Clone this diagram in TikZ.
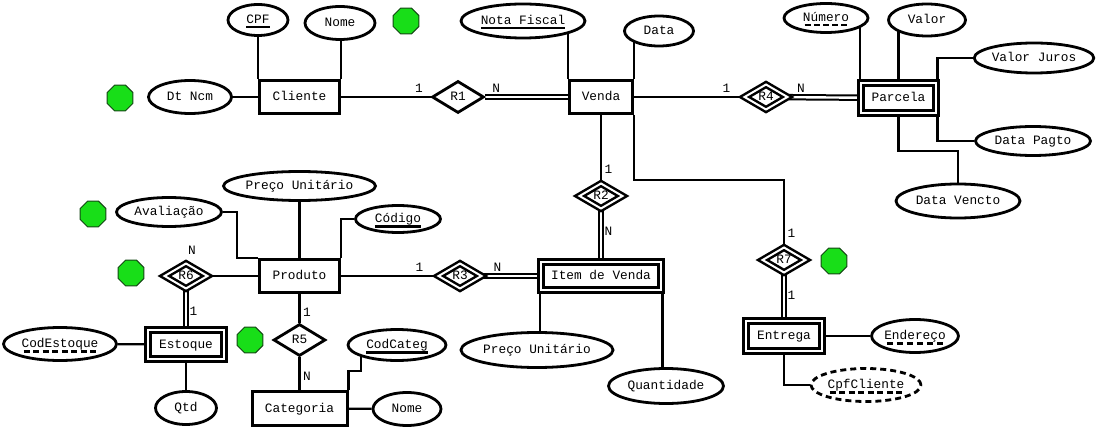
\documentclass[tikz,border=0pt]{standalone}
\usepackage{fontspec}
\setmainfont{Liberation Mono}
\usetikzlibrary{shapes.geometric,backgrounds}

\definecolor{dotgreen}{RGB}{24,222,24}
\definecolor{dotedge}{RGB}{20,70,20}

% key underlines: solid for keys, dashed for partial keys
\newsavebox{\ulbox}
\newcommand{\keyul}[1]{\sbox\ulbox{#1}\rlap{\rule[-5pt]{\wd\ulbox}{2.4pt}}\usebox\ulbox}
\newcommand{\pkeyul}[1]{\sbox\ulbox{#1}\rlap{\hbox to \wd\ulbox{\xleaders\hbox to 9pt{\hss\rule[-5pt]{6pt}{2.4pt}\hss}\hfill}}\usebox\ulbox}
\newcommand{\erfont}{\fontsize{12.8pt}{14pt}\selectfont}

\begin{document}
\begin{tikzpicture}[
    x=1pt, y=-1pt,
    font=\erfont,
    entity/.style={draw, fill=white, line width=3pt, inner sep=0pt, text height=8pt, text depth=1pt},
    weakentity/.style={entity, double, double distance=2.2pt, line width=2.8pt},
    rel/.style={draw, fill=white, diamond, line width=2.8pt, inner sep=0pt, minimum width=52, minimum height=32, text height=8pt, text depth=1pt},
    weakrel/.style={rel, double, double distance=2pt, line width=2.5pt, minimum width=44, minimum height=26},
    attr/.style={draw, fill=white, ellipse, line width=2.8pt, inner sep=0pt, text height=8pt, text depth=1pt},
    derived/.style={attr, dash pattern=on 6pt off 4pt},
    cline/.style={line width=2.2pt},
    dline/.style={line width=2pt, double, double distance=2.4pt},
    card/.style={inner sep=2.5pt, text height=8pt, text depth=1pt},
    gdot/.style={draw=dotedge, fill=dotgreen, regular polygon, regular polygon sides=8, minimum size=28, inner sep=0pt, line width=1pt}
]
    \useasboundingbox (0,0) rectangle (1102,430);

    % Entities
    \node[entity, minimum width=80, minimum height=33] (cliente) at (299.5,97) {Cliente};
    \node[entity, minimum width=63, minimum height=33] (venda) at (601,97) {Venda};
    \node[weakentity, minimum width=75, minimum height=30] (parcela) at (898.5,98) {Parcela};
    \node[entity, minimum width=80, minimum height=33] (produto) at (299.5,276) {Produto};
    \node[weakentity, minimum width=120, minimum height=28] (itemvenda) at (601,276) {Item de Venda};
    \node[weakentity, minimum width=76, minimum height=29] (estoque) at (186,344.5) {Estoque};
    \node[entity, minimum width=95, minimum height=34] (categoria) at (299.5,408.5) {Categoria};
    \node[weakentity, minimum width=76, minimum height=30] (entrega) at (784,336) {Entrega};

    % Relationships
    \node[rel] (r1) at (458,97) {R1};
    \node[weakrel] (r2) at (601,196) {R2};
    \node[weakrel] (r3) at (460,276) {R3};
    \node[weakrel] (r4) at (766,97) {R4};
    \node[rel] (r5) at (299.5,340) {R5};
    \node[weakrel] (r6) at (186,276) {R6};
    \node[weakrel] (r7) at (784,260) {R7};

    % Attributes
    \node[attr, minimum width=60, minimum height=31] (cpf) at (258,20) {\keyul{CPF}};
    \node[attr, minimum width=70, minimum height=33] (nomecli) at (340,23) {Nome};
    \node[attr, minimum width=83, minimum height=33] (dtncm) at (190,97) {Dt Ncm};
    \node[attr, minimum width=124, minimum height=34] (notafiscal) at (523,21) {\keyul{Nota Fiscal}};
    \node[attr, minimum width=69, minimum height=30] (data) at (659,31) {Data};
    \node[attr, minimum width=84, minimum height=29] (numero) at (826,18) {\pkeyul{Número}};
    \node[attr, minimum width=77, minimum height=32] (valor) at (927,20) {Valor};
    \node[attr, minimum width=119, minimum height=30] (valorjuros) at (1034,58) {Valor Juros};
    \node[attr, minimum width=115, minimum height=29] (datapagto) at (1033,141) {Data Pagto};
    \node[attr, minimum width=124, minimum height=34] (datavencto) at (958,201) {Data Vencto};
    \node[attr, minimum width=144, minimum height=29] (precoprod) at (299.5,186) {Preço Unitário};
    \node[attr, minimum width=105, minimum height=29] (avaliacao) at (169,212) {Avaliação};
    \node[attr, minimum width=85, minimum height=27] (codigo) at (398,219) {\keyul{Código}};
    \node[attr, minimum width=113, minimum height=33] (codestoque) at (60,344) {\pkeyul{CodEstoque}};
    \node[attr, minimum width=61, minimum height=33] (qtd) at (186,408) {Qtd};
    \node[attr, minimum width=98, minimum height=31] (codcateg) at (397,345) {\keyul{CodCateg}};
    \node[attr, minimum width=68, minimum height=33] (nomecateg) at (407,409) {Nome};
    \node[attr, minimum width=145, minimum height=35] (precoitem) at (537,350) {Preço Unitário};
    \node[attr, minimum width=115, minimum height=35] (quantidade) at (666,386) {Quantidade};
    \node[attr, minimum width=83, minimum height=33] (endereco) at (915,336) {\pkeyul{Endereço}};
    \node[derived, minimum width=110, minimum height=33] (cpfcliente) at (866,385) {\pkeyul{CpfCliente}};

    % Markers
    \node[gdot] (g1) at (120,98) {};
    \node[gdot] (g2) at (406,21) {};
    \node[gdot] (g3) at (93,214) {};
    \node[gdot] (g4) at (131,273) {};
    \node[gdot] (g5) at (250,340) {};
    \node[gdot] (g6) at (834,261) {};

    \node[card, above=4pt, xshift=6pt] (r6n) at (r6.north) {N};

    \begin{scope}[on background layer]
        % Cliente
        \draw[cline] (cliente.north west) -- (cliente.north west |- cpf);
        \draw[cline] (cliente.north east) -- (cliente.north east |- nomecli);
        \draw[cline] (dtncm) -- (cliente);
        \draw[cline] (cliente) -- node[card, pos=0.87, above] {1} (r1);
        \draw[dline] (r1) -- node[card, pos=0.13, above] {N} (venda);

        % Venda
        \draw[cline] (venda.north west) -- (venda.north west |- notafiscal);
        \draw[cline] (venda.north east) -- (venda.north east |- data);
        \draw[cline] (venda) -- node[card, pos=0.85, above] {1} (r4);
        \draw[dline] (r4) -- node[card, pos=0.17, above] {N} (parcela);
        \draw[cline] (venda) -- node[card, pos=0.83, right] {1} (r2);
        \draw[dline] (r2) -- node[card, pos=0.43, right] {N} (itemvenda);
        \draw[cline] (venda.south east) -- ++(0,65) -| node[card, pos=0.91, right] {1} (r7);
        \draw[dline] (r7) -- node[card, pos=0.49, right] {1} (entrega);

        % Parcela
        \draw[cline] (parcela.north west) -- (parcela.north west |- numero);
        \draw[cline] (parcela.north) -- (parcela.north |- valor);
        \draw[cline] (valorjuros) -| (parcela.north east);
        \draw[cline] (datapagto) -| (parcela.south east);
        \draw[cline] (parcela.south) -- ++(0,37) -| (datavencto);

        % Produto
        \draw[cline] (produto) -- (precoprod);
        \draw[cline] (avaliacao) -| ([xshift=-21]produto.north west) -- (produto.north west);
        \draw[cline] (codigo) -| (produto.north east);
        \draw[cline] (produto) -- (r6);
        \draw[dline] (r6) -- node[card, pos=0.58, right] {1} (estoque);
        \draw[cline] (produto) -- node[card, pos=0.82, above] {1} (r3);
        \draw[dline] (r3) -- node[card, pos=0.25, above] {N} (itemvenda);
        \draw[cline] (produto) -- node[card, pos=0.65, right] {1} (r5);
        \draw[cline] (r5) -- node[card, pos=0.59, right] {N} (categoria);

        % Estoque and Categoria
        \draw[cline] (codestoque) -- (estoque);
        \draw[cline] (estoque) -- (qtd);
        \draw[cline] (categoria.north east) -- ++(0,-19) -| ([xshift=-36]codcateg.center);
        \draw[cline] (categoria) -- (nomecateg);

        % Item de Venda and Entrega
        \draw[cline] (itemvenda.south west) -- (itemvenda.south west |- precoitem);
        \draw[cline] (itemvenda.south east) -- (itemvenda.south east |- quantidade);
        \draw[cline] (entrega) -- (endereco);
        \draw[cline] (entrega.south) |- (cpfcliente);
    \end{scope}
\end{tikzpicture}
\end{document}
